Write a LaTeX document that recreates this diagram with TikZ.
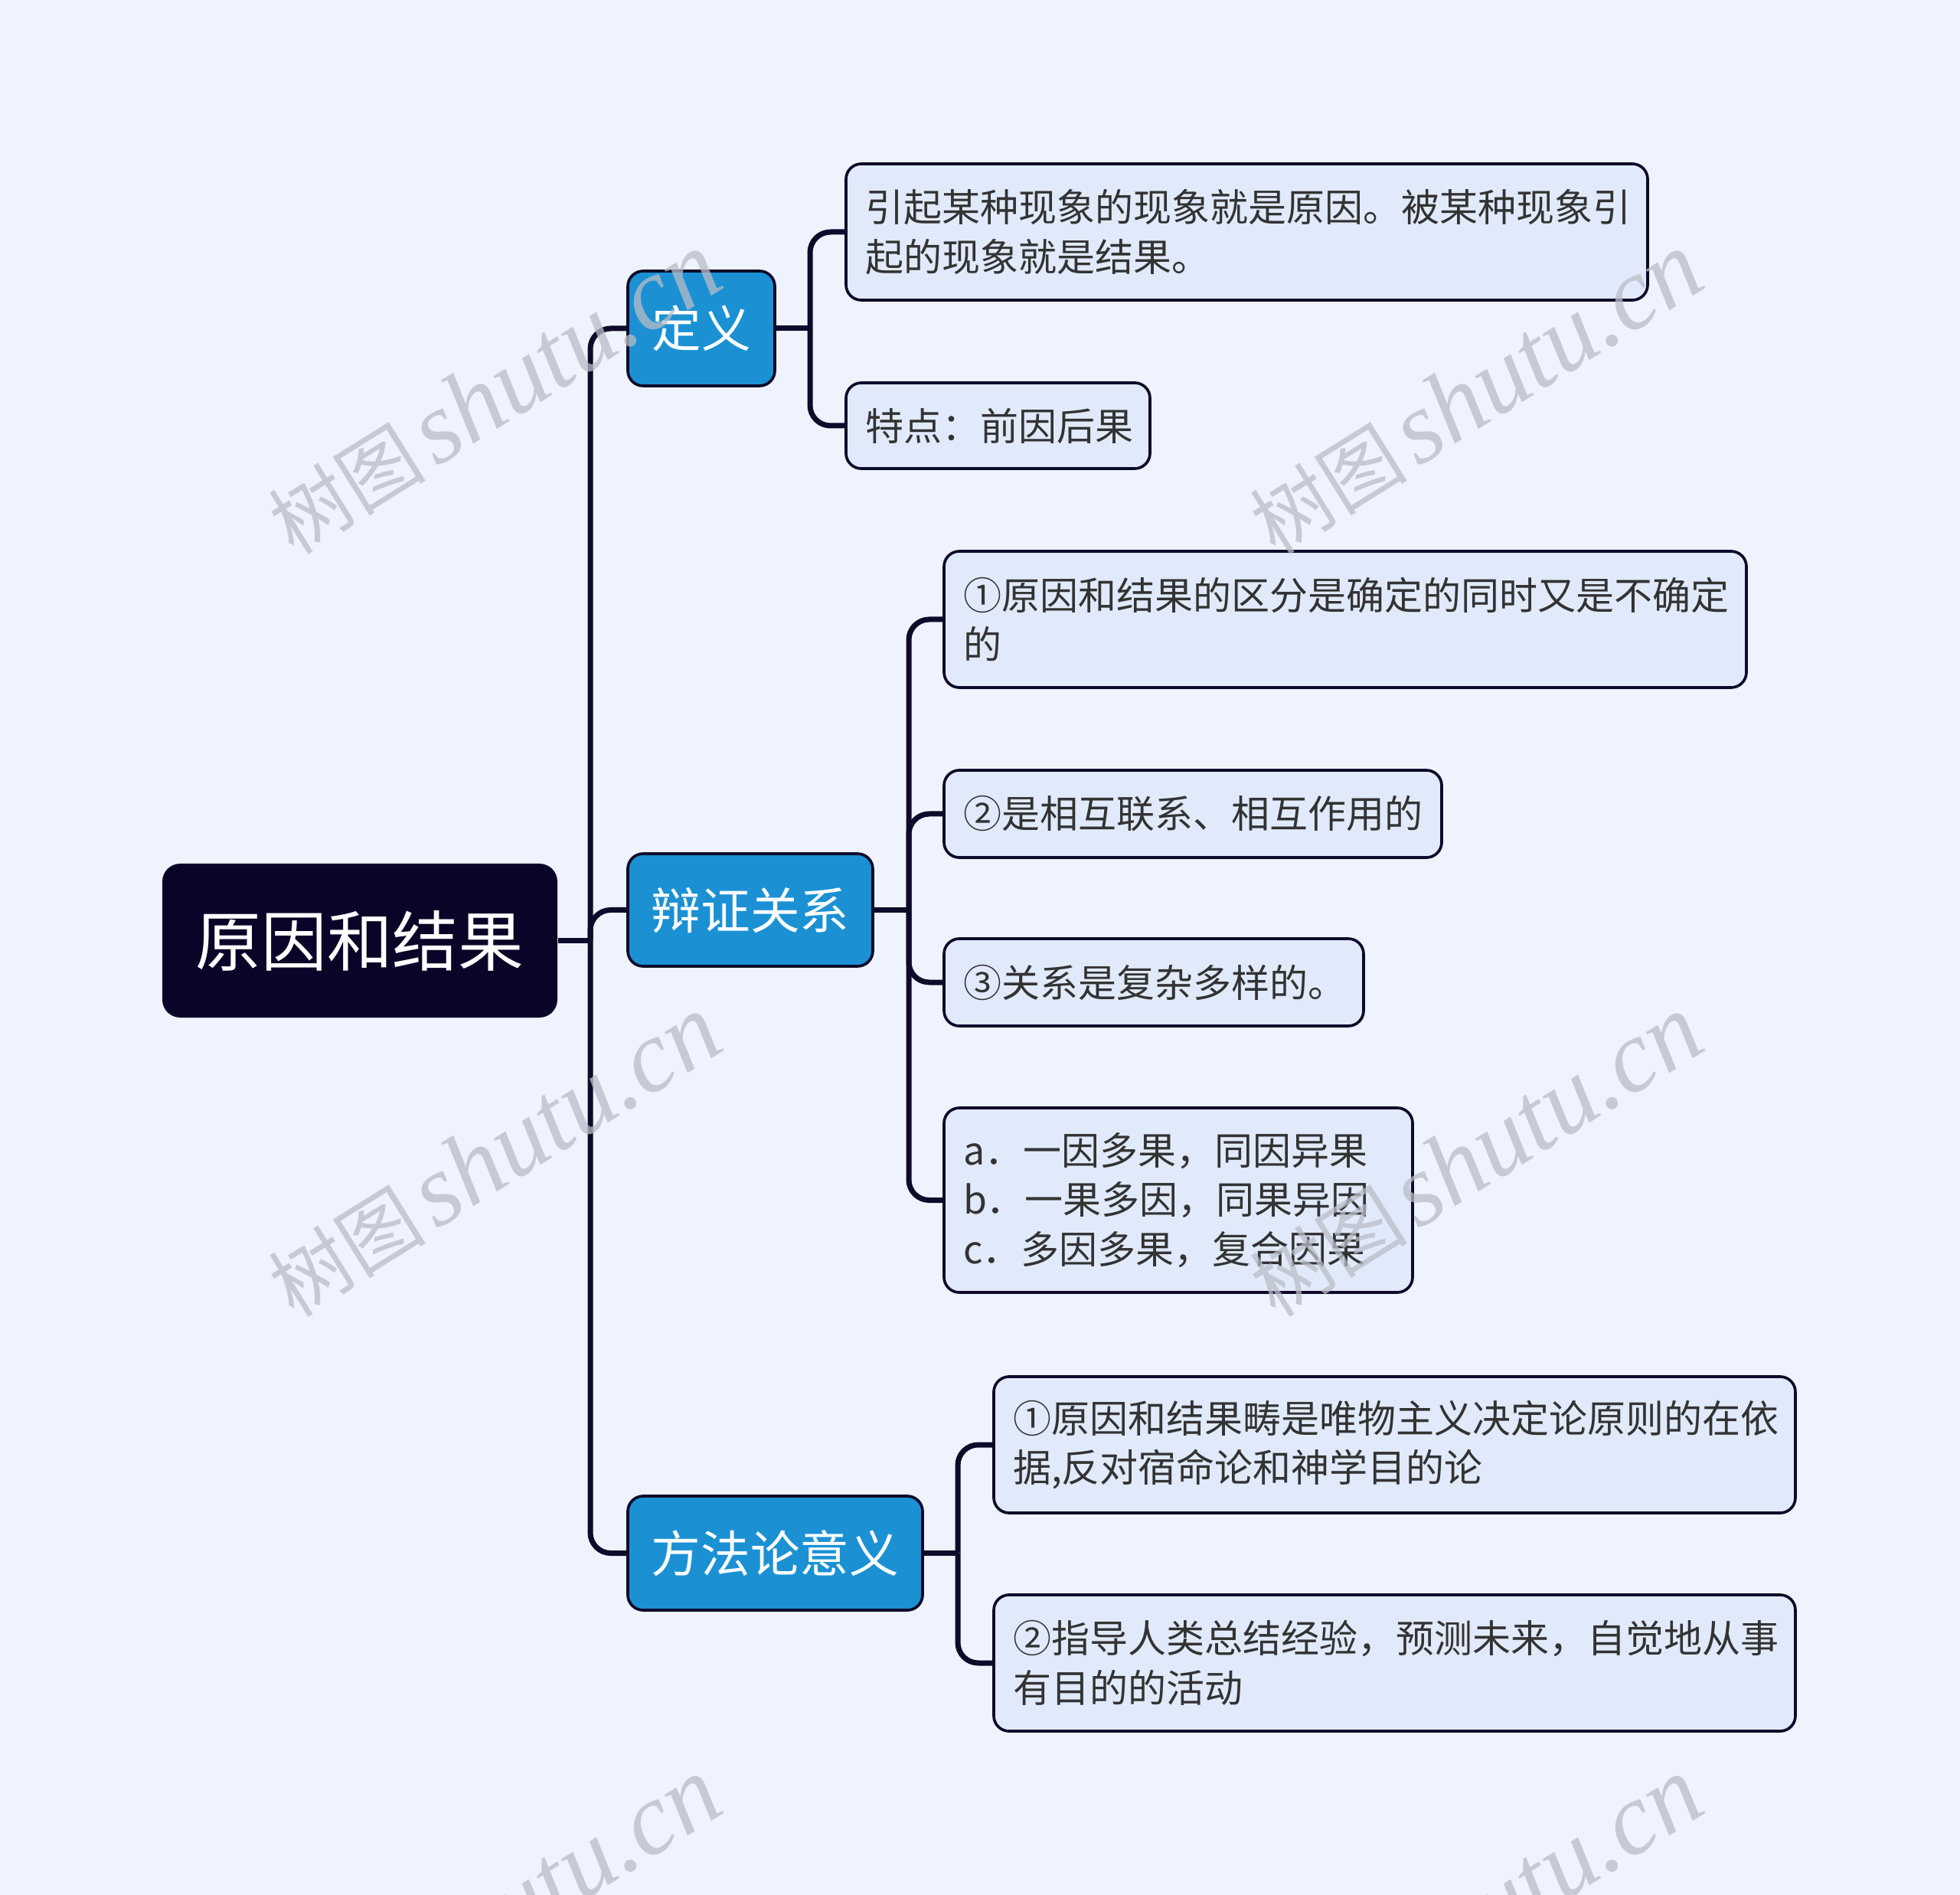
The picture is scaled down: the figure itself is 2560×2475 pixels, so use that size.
\documentclass[tikz,border=0pt]{standalone}
\usepackage{fontspec}
\newfontfamily\cjk{Noto Sans CJK SC}
\newfontfamily\wmlat{Liberation Serif}
\newdimen\upx \upx=0.3pt
\definecolor{bgc}{RGB}{238,243,254}
\definecolor{leaff}{RGB}{225,234,251}
\definecolor{linec}{RGB}{14,10,42}
\definecolor{rootf}{RGB}{10,5,40}
\definecolor{bluef}{RGB}{27,145,212}
\definecolor{textc}{RGB}{51,51,51}
\definecolor{wmc}{RGB}{185,189,198}
\begin{document}
\begin{tikzpicture}[x=0.3pt,y=-0.3pt,
  leaf/.style={draw=linec, line width=1.1pt, fill=leaff, rounded corners=6pt, text=textc,
    font=\cjk\fontsize{15}{19.4}\selectfont, align=left, inner xsep=25\upx, inner ysep=0pt},
  lvone/.style={draw=linec, line width=1.1pt, fill=bluef, rounded corners=6pt, text=white,
    font=\cjk\fontsize{19.4}{23}\selectfont, inner sep=0pt},
  rootbox/.style={fill=rootf, rounded corners=7pt, text=white,
    font=\cjk\fontsize{25.7}{30}\selectfont, inner sep=0pt},
  conn/.style={draw=linec, line width=2.1pt, rounded corners=8pt},
  wm/.style={text=wmc, opacity=0.75, rotate=32, inner sep=0pt}
]
\useasboundingbox (0,0) rectangle (2560,2475);
\fill[bgc] (0,0) rectangle (2560,2475);

% root and level one
\node[rootbox, minimum width=516\upx, minimum height=201\upx] (root) at (470,1228.5) {原因和结果};
\node[lvone, minimum width=192\upx, minimum height=150\upx] (ding) at (916,429) {定义};
\node[lvone, minimum width=320\upx, minimum height=147\upx] (bian) at (980,1188.5) {辩证关系};
\node[lvone, minimum width=385\upx, minimum height=149\upx] (fang) at (1012.5,2028.5) {方法论意义};

% leaves
\node[leaf, minimum width=1047\upx, text width=997\upx, minimum height=178\upx] (d1) at (1628.5,303)
  {引起某种现象的现象就是原因。被某种现象引\\起的现象就是结果。};
\node[leaf, minimum width=397\upx, text width=347\upx, minimum height=112\upx] (d2) at (1303.5,556)
  {特点：前因后果};
\node[leaf, minimum width=1048\upx, text width=998\upx, minimum height=178\upx] (b1) at (1757,809)
  {①原因和结果的区分是确定的同时又是不确定\\的};
\node[leaf, minimum width=650\upx, text width=600\upx, minimum height=114\upx] (b2) at (1558,1063)
  {②是相互联系、相互作用的};
\node[leaf, minimum width=548\upx, text width=498\upx, minimum height=114\upx] (b3) at (1507,1283)
  {③关系是复杂多样的。};
\node[leaf, minimum width=612\upx, text width=562\upx, minimum height=241\upx] (b4) at (1539,1567.5)
  {a．一因多果，同因异果\\b．一果多因，同果异因\\c．多因多果，复合因果};
\node[leaf, minimum width=1047\upx, text width=997\upx, minimum height=178\upx] (m1) at (1821.5,1887)
  {①原因和结果畴是唯物主义决定论原则的在依\\据,反对宿命论和神学目的论};
\node[leaf, minimum width=1047\upx, text width=997\upx, minimum height=178\upx] (m2) at (1821.5,2172)
  {②指导人类总结经验，预测未来，自觉地从事\\有目的的活动};

% junctions
\coordinate (j0) at (771,1228.5);
\coordinate (j1) at (1058,429);
\coordinate (j2) at (1187,1188.5);
\coordinate (j3) at (1251,2028.5);

% connectors
\draw[conn] (root.east) -- (j0);
\draw[conn] (j0) |- (ding.west);
\draw[conn] (j0) |- (bian.west);
\draw[conn] (j0) |- (fang.west);
\draw[conn] (ding.east) -- (j1);
\draw[conn] (j1) |- (d1.west);
\draw[conn] (j1) |- (d2.west);
\draw[conn] (bian.east) -- (j2);
\draw[conn] (j2) |- (b1.west);
\draw[conn] (j2) |- (b2.west);
\draw[conn] (j2) |- (b3.west);
\draw[conn] (j2) |- (b4.west);
\draw[conn] (fang.east) -- (j3);
\draw[conn] (j3) |- (m1.west);
\draw[conn] (j3) |- (m2.west);

% watermarks
\begin{scope}
\clip (0,0) rectangle (2560,2475);
\foreach \wx/\wy [count=\i] in {645/514, 1927/514, 645/1510, 1927/1510, 645/2506, 1927/2506} {
  \node[wm] (wm\i) at (\wx,\wy) {\cjk\fontsize{31}{36}\selectfont 树图\hspace{4pt}\wmlat\itshape\fontsize{40}{44}\selectfont shutu.cn};
}
\end{scope}
\end{tikzpicture}
\end{document}
